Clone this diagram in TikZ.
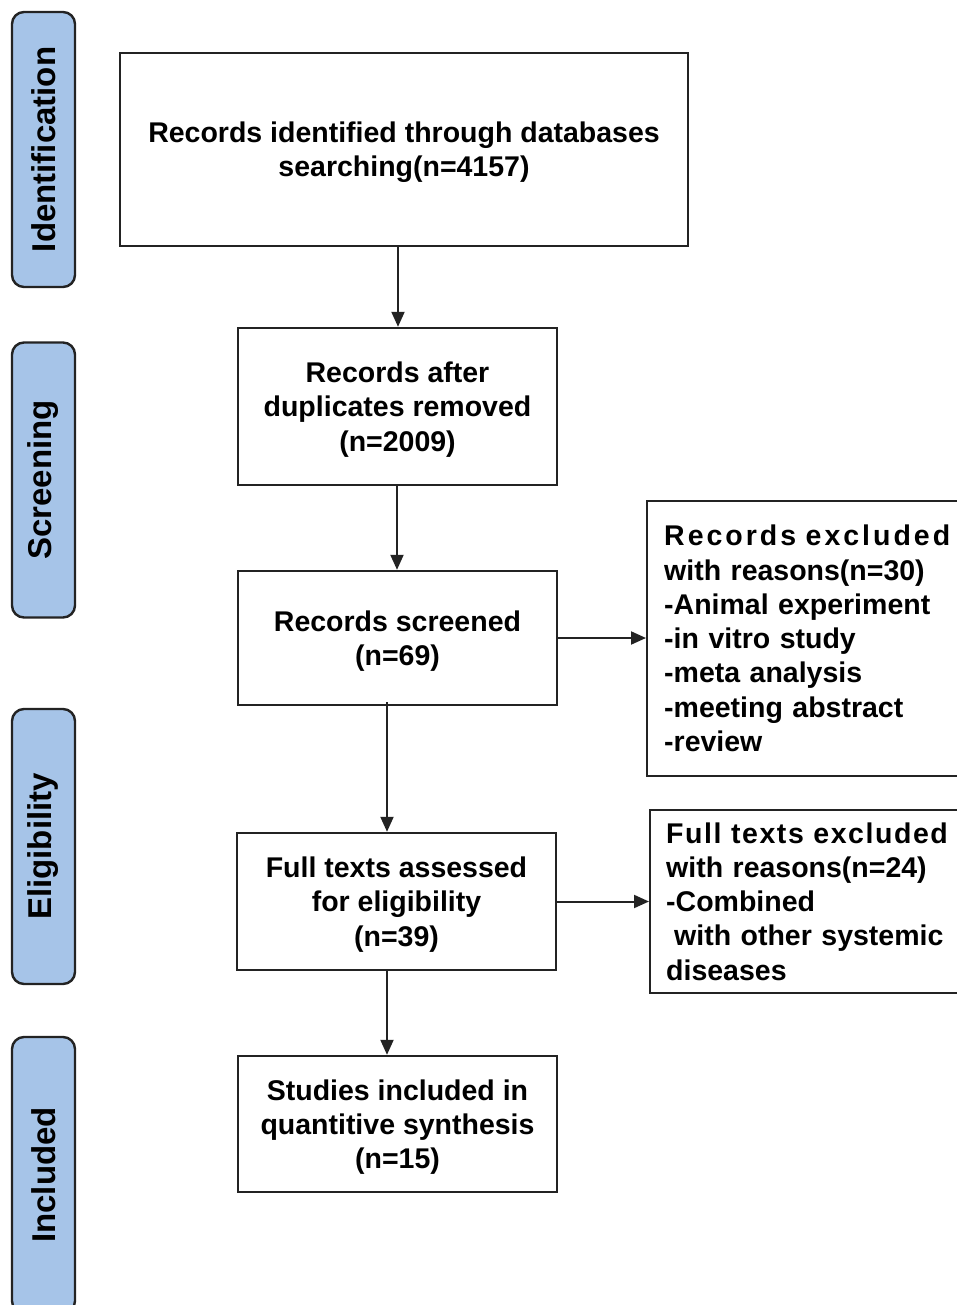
\documentclass[tikz,border=0pt]{standalone}
\usepackage{fontspec}
\setmainfont{Liberation Sans}
\usetikzlibrary{arrows.meta}
\definecolor{sidefill}{RGB}{166,196,232}
\definecolor{edge}{RGB}{35,35,35}
\begin{document}
\begin{tikzpicture}[x=1pt,y=-1pt,
  side/.style={draw=edge, line width=2.4pt, fill=sidefill, rounded corners=12pt,
    rotate=90, minimum width=275pt, minimum height=63pt, inner sep=0pt,
    font=\fontsize{33}{38}\selectfont\bfseries},
  flowbox/.style={draw=edge, line width=2.4pt, align=center, inner sep=0pt, text depth=0pt,
    font=\fontsize{28.5}{34.3}\selectfont\bfseries},
  sidebox/.style={draw=edge, line width=2.4pt, align=left, inner ysep=0pt, inner xsep=17pt,
    text width=300pt, anchor=west,
    font=\fontsize{28.5}{34.3}\selectfont\bfseries},
  arr/.style={line width=2pt, draw=edge, -{Triangle[length=15pt,width=13pt]}}
]
\useasboundingbox (0,0) rectangle (956,1305);
\fill[white] (0,0) rectangle (956,1305);

\node[side] (s1) at (43.5,149.5) {Identification};
\node[side] (s2) at (43.5,480) {Screening};
\node[side] (s3) at (43.5,846.5) {Eligibility};
\node[side, minimum width=276pt] (s4) at (43.5,1175) {Included};

\node[flowbox, minimum width=568pt, minimum height=193pt] (a) at (404,149.5)
  {Records identified through databases\\searching(n=4157)};
\node[flowbox, minimum width=319pt, minimum height=157pt] (b) at (397.5,406.5)
  {Records after\\duplicates removed\\(n=2009)};
\node[flowbox, minimum width=319pt, minimum height=134pt] (c) at (397.5,638)
  {Records screened\\(n=69)};
\node[flowbox, minimum width=319pt, minimum height=137pt] (d) at (396.5,901.5)
  {Full texts assessed\\for eligibility\\(n=39)};
\node[flowbox, minimum width=319pt, minimum height=136pt] (e) at (397.5,1124)
  {Studies included in\\quantitive synthesis\\(n=15)};

\node[sidebox, minimum height=275pt] (r1) at (646,638.5)
  {{\addfontfeature{LetterSpace=10.5}Records excluded}\\with reasons(n=30)\\-Animal experiment\\-in vitro study\\-meta analysis\\-meeting abstract\\-review};
\node[sidebox, minimum height=183pt, inner xsep=16pt] (r2) at (649,901.5)
  {{\addfontfeature{LetterSpace=5.5}Full texts excluded}\\with reasons(n=24)\\-Combined\\\hspace*{.28em}with other systemic\\diseases};

\draw[arr] (a.south -| 398,0) -- (b.north -| 398,0);
\draw[arr] (b.south -| 397,0) -- (c.north -| 397,0);
\draw[arr] ([yshift=4pt]c.south -| 387,0) -- (d.north -| 387,0);
\draw[arr] (d.south -| 387,0) -- (e.north -| 387,0);
\draw[arr] (c.east) -- (r1.west |- c.east);
\draw[arr] (d.east) -- (r2.west |- d.east);
\end{tikzpicture}
\end{document}
